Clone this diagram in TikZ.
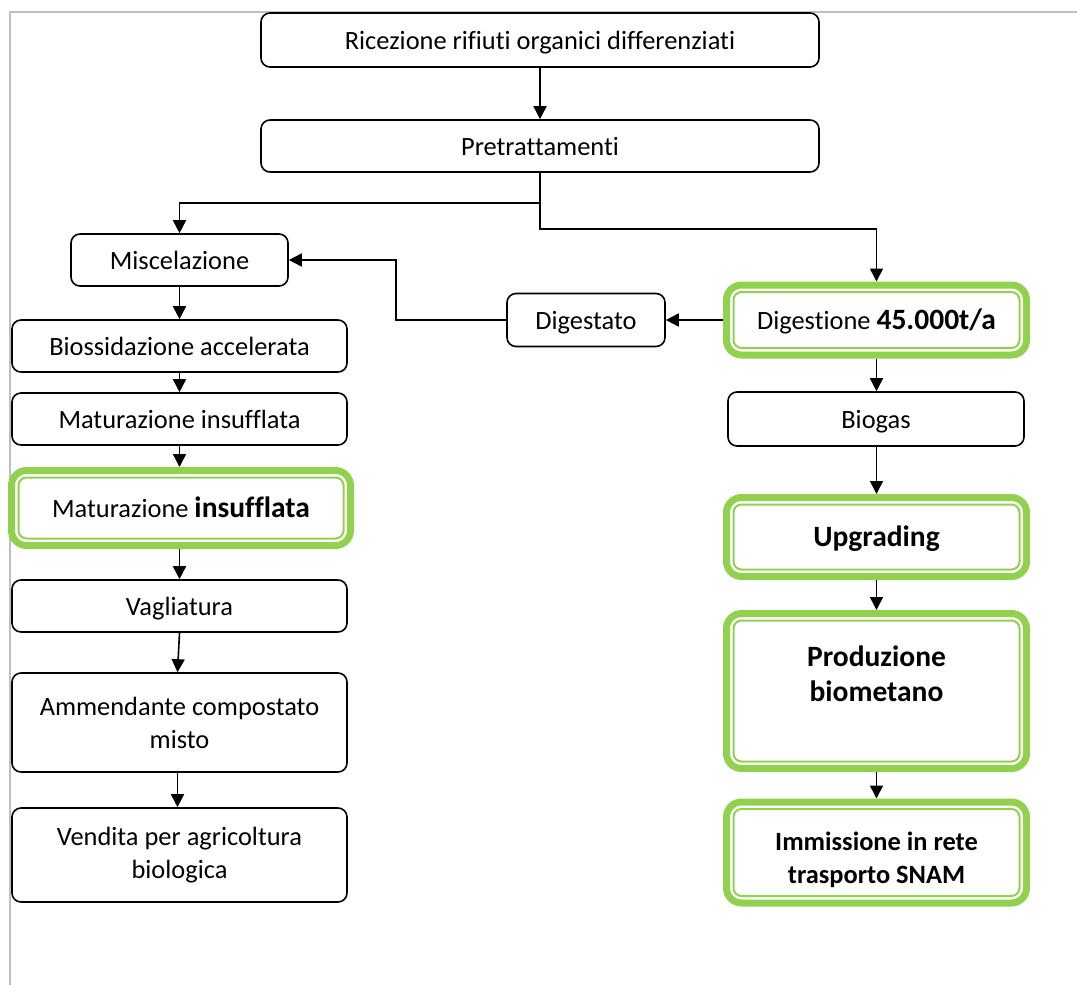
\documentclass[tikz,border=0pt]{standalone}
\usepackage{fontspec}
\setmainfont[Ligatures={NoCommon,NoRequired,NoContextual}]{Carlito}
\usetikzlibrary{arrows.meta}
\definecolor{lgreen}{HTML}{92D050}
\definecolor{framegray}{HTML}{BFBFBF}
\tikzset{
  box/.style={draw=black, line width=1.6pt, rounded corners=9pt, fill=white, align=center, inner sep=0pt,
    font=\fontsize{26.4}{33}\selectfont},
  gbox/.style={draw=lgreen, line width=7pt, rounded corners=15pt, fill=white, align=center, inner sep=0pt,
    font=\fontsize{26.4}{33}\selectfont},
  sl/.style={text height=20pt, text depth=2pt},
  ginner/.style={draw=lgreen, line width=2pt, rounded corners=8pt},
  arr/.style={draw=black, line width=1.6pt, -{Triangle[width=13pt,length=13pt]}},
  big/.style={font=\fontsize{29.5}{35}\selectfont\bfseries},
}
\begin{document}
\begin{tikzpicture}[x=1pt,y=-1pt]
\useasboundingbox (0,0) rectangle (1077,985);
\draw[framegray, line width=2pt] (10,985) -- (10,12) -- (1077,12);

% top boxes
\node[box, sl, minimum width=558, minimum height=54] (ric) at (540,40) {Ricezione rifiuti organici differenziati};
\node[box, sl, minimum width=558, minimum height=52] (pre) at (540,146) {Pretrattamenti};

% left column
\node[box, sl, minimum width=217, minimum height=52] (mis) at (179.5,260) {Miscelazione};
\node[box, sl, minimum width=335, minimum height=52] (bio1) at (179.5,346) {Biossidazione accelerata};
\node[box, sl, minimum width=335, minimum height=52] (mat1) at (179.5,419) {Maturazione insufflata};
\node[gbox, sl, minimum width=339, minimum height=75] (mat2) at (181,508) {Maturazione {\fontsize{29.5}{35}\selectfont\bfseries insufflata}};
\node[box, sl, minimum width=335, minimum height=52] (vag) at (179.5,606) {Vagliatura};
\node[box, minimum width=335, minimum height=99] (amm) at (179.5,722.5) {Ammendante compostato\\misto};
\node[box, minimum width=335, minimum height=94] (ven) at (179.5,855) {Vendita per agricoltura\\biologica};

% middle
\node[box, sl, minimum width=158, minimum height=53] (dig) at (586,320) {Digestato};

% right column
\node[gbox, sl, minimum width=300, minimum height=70] (dige) at (876.5,320) {Digestione {\fontsize{29.5}{35}\selectfont\bfseries 45.000t/a}};
\node[box, sl, minimum width=296, minimum height=54] (biogas) at (876,419) {Biogas};
\node[gbox, big, sl, minimum width=300, minimum height=79] (upg) at (876.5,537) {Upgrading};
\node[gbox, big, minimum width=300, minimum height=155] (prod) at (876.5,691) {\rule{0pt}{31pt}Produzione\\biometano\\\strut};
\node[gbox, minimum width=300, minimum height=101] (imm) at (876.5,852.5) {\rule{0pt}{34pt}\bfseries Immissione in rete\\\bfseries trasporto SNAM};

\foreach \n in {dige,mat2,upg,prod,imm}
  \draw[ginner] ([shift={(10.5,10.5)}]\n.north west) rectangle ([shift={(-10.5,-10.5)}]\n.south east);

% connectors
\draw[arr] (ric.south) -- (pre.north);
\draw[arr] (pre.south) -- ++(0,30) -| (mis.north);
\draw[arr] (pre.south) -- ++(0,56) -| (dige.north);
\draw[arr] (dige.west) -- (dig.east);
\draw[arr] (dig.west) -- ++(-110,0) |- (mis.east);
\draw[arr] (mis.south) -- (bio1.north);
\draw[arr] (bio1.south) -- (mat1.north);
\draw[arr] (mat1.south) -- (mat2.north -| mat1.south);
\draw[arr] (mat2.south -| vag.north) -- (vag.north);
\draw[arr] (vag.south) -- ([xshift=-2pt]amm.north);
\draw[arr] ([xshift=-2pt]amm.south) -- ([xshift=-2pt]ven.north);
\draw[arr] (dige.south) -- (biogas.north -| dige.south);
\draw[arr] (biogas.south -| upg.north) -- (upg.north);
\draw[arr] (upg.south) -- (prod.north);
\draw[arr] (prod.south) -- (imm.north);
\end{tikzpicture}
\end{document}
